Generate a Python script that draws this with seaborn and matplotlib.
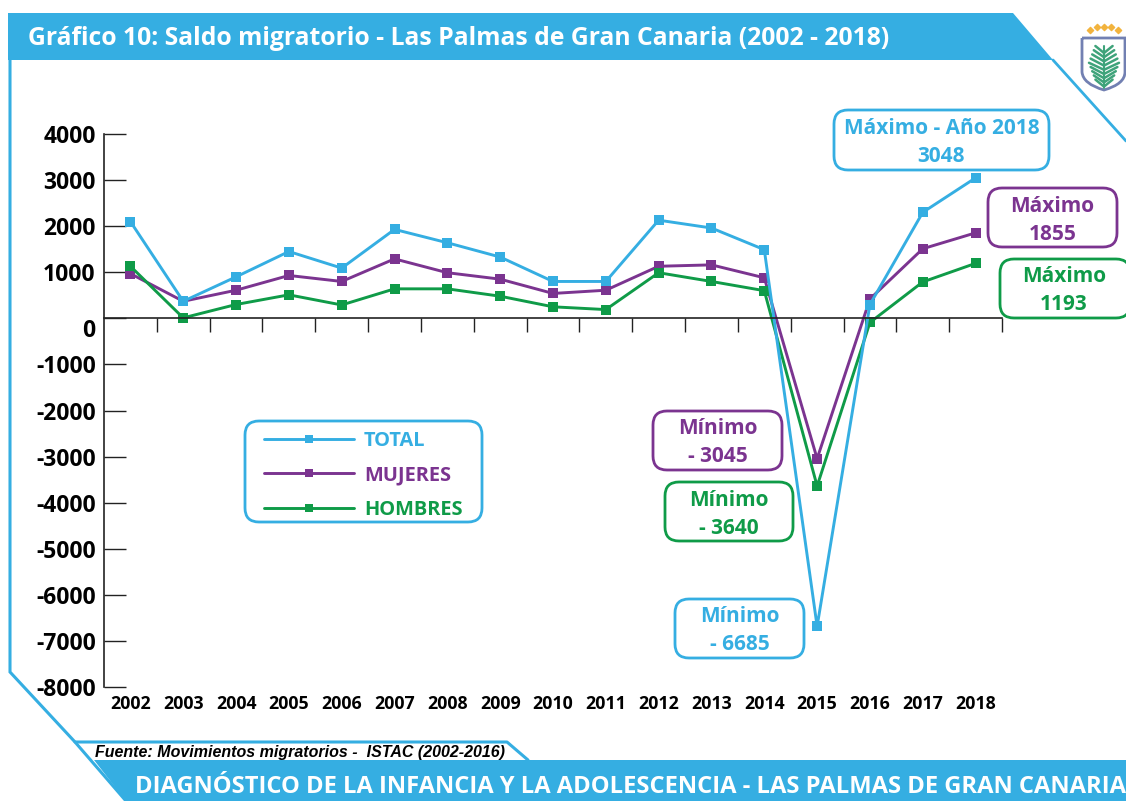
import numpy as np
import pandas as pd
import matplotlib
matplotlib.use('Agg')
import matplotlib.pyplot as plt
import matplotlib.transforms as mtrans
from matplotlib.patches import FancyBboxPatch, Polygon, PathPatch
from matplotlib.path import Path
import seaborn as sns

sns.set_style('white')
plt.rcParams['font.family'] = ['Open Sans', 'DejaVu Sans']

# datos
years = [str(y) for y in range(2002, 2019)]
total = [2100, 370, 900, 1450, 1090, 1930, 1640, 1330, 800, 800, 2130, 1960, 1490, -6685, 300, 2300, 3048]
mujeres = [970, 370, 610, 930, 800, 1290, 990, 850, 540, 610, 1130, 1160, 880, -3045, 420, 1510, 1855]
hombres = [1130, 10, 300, 510, 290, 640, 640, 480, 250, 190, 990, 800, 600, -3640, -90, 790, 1193]
y_ticks = [4000, 3000, 2000, 1000, 0, -1000, -2000, -3000, -4000, -5000, -6000, -7000, -8000]

BLUE = '#35AEE2'
PURPLE = '#7B3490'
GREEN = '#0F9B48'
W, H = 1126, 801

df = pd.DataFrame({'year': years, 'TOTAL': total, 'MUJERES': mujeres, 'HOMBRES': hombres})
long_df = df.melt(id_vars='year', var_name='serie', value_name='saldo')

fig = plt.figure(figsize=(W / 100, H / 100), dpi=100)

# capa de fondo en pixeles para el marco, las cajas y el escudo
bg = fig.add_axes([0, 0, 1, 1], zorder=0)
bg.set_xlim(0, W)
bg.set_ylim(H, 0)
bg.axis('off')

bg.add_patch(Polygon([(8, 13), (1013, 13), (1053, 60), (8, 60)], fc=BLUE, ec='none'))
bg.plot([10, 10, 75, 126], [60, 672, 742, 801], color=BLUE, lw=2.2, solid_joinstyle='miter')
bg.plot([1053, 1126], [60, 141], color=BLUE, lw=2)
bg.plot([75, 507, 528], [742, 742, 760], color=BLUE, lw=2.2)
bg.add_patch(Polygon([(94, 760), (W, 760), (W, H), (126, H)], fc=BLUE, ec='none'))

bg.text(28, 38.5, 'Gráfico 10: Saldo migratorio - Las Palmas de Gran Canaria (2002 - 2018)',
        color='white', fontsize=17.8, fontweight='bold', va='center', ha='left')
bg.text(135, 787, 'DIAGNÓSTICO DE LA INFANCIA Y LA ADOLESCENCIA - LAS PALMAS DE GRAN CANARIA',
        color='white', fontsize=17.1, fontweight='bold', va='center', ha='left')
bg.text(95, 752, 'Fuente: Movimientos migratorios -  ISTAC (2002-2016)', color='black',
        fontsize=11.5, fontweight='bold', style='italic', va='center', ha='left',
        family=['Liberation Sans', 'DejaVu Sans'])

# cajas de maximos y minimos
boxes = [
    (834, 110, 1049, 170, BLUE, 'Máximo - Año 2018', '3048'),
    (988, 188, 1117, 247, PURPLE, 'Máximo', '1855'),
    (1000, 259, 1130, 318, GREEN, 'Máximo', '1193'),
    (653, 411, 782, 470, PURPLE, 'Mínimo', '- 3045'),
    (665, 482, 793, 541, GREEN, 'Mínimo', '- 3640'),
    (675, 599, 804, 658, BLUE, 'Mínimo', '- 6685'),
]
for x0, y0, x1, y1, col, line1, line2 in boxes:
    bg.add_patch(FancyBboxPatch((x0 + 14, y0 + 14), x1 - x0 - 28, y1 - y0 - 28,
                                boxstyle='round,pad=14,rounding_size=14',
                                fc='white', ec=col, lw=2))
    cx = (x0 + min(x1, W + 2)) / 2
    bg.text(cx, y0 + 18, line1, color=col, fontsize=15, fontweight='bold', ha='center', va='center')
    bg.text(cx, y0 + 46, line2, color=col, fontsize=15, fontweight='bold', ha='center', va='center')

# caja de la leyenda
bg.add_patch(FancyBboxPatch((259, 435), 209, 73, boxstyle='round,pad=14,rounding_size=14',
                            fc='white', ec=BLUE, lw=2))

# escudo
shield = Path([(1082, 38), (1125, 38), (1125, 72), (1125, 84), (1104, 90), (1083, 84), (1082, 72), (1082, 38)],
              [Path.MOVETO, Path.LINETO, Path.LINETO, Path.CURVE3, Path.CURVE3, Path.CURVE3, Path.CURVE3, Path.LINETO])
bg.add_patch(PathPatch(shield, fc='white', ec='#7280B2', lw=2))
bg.plot([1104, 1104], [46, 88], color='#3FA37A', lw=1.5)
for i in range(9):
    yy = 50 + i * 4.2
    half = 15 - abs(i - 4) * 1.6
    bg.plot([1104 - half, 1104, 1104 + half], [yy - 4, yy + 3, yy - 4], color='#3FA37A', lw=1.8)
bg.scatter([1090, 1097, 1104, 1111, 1118], [30, 27, 27, 27, 30], marker='D', s=10, color='#F2B33D')

# grafico
left, right, top, bottom = 104, 1002, 134, 687
ax = fig.add_axes([left / W, 1 - bottom / H, (right - left) / W, (bottom - top) / H], zorder=1)
ax.patch.set_alpha(0)

sns.lineplot(data=long_df, x='year', y='saldo', hue='serie',
             hue_order=['MUJERES', 'HOMBRES', 'TOTAL'],
             palette={'TOTAL': BLUE, 'MUJERES': PURPLE, 'HOMBRES': GREEN},
             marker='s', markersize=6.5, markeredgewidth=0, linewidth=2.1,
             dashes=False, sort=False, ax=ax, clip_on=False, legend=True)

ax.set_xlim(-0.5, 16.5)
ax.set_ylim(-8000, 4000)
ax.set_xlabel('')
ax.set_ylabel('')
sns.despine(ax=ax, top=True, right=True)
ax.spines['bottom'].set_position(('data', 0))
ax.spines['bottom'].set_linewidth(1.2)
ax.spines['left'].set_linewidth(1.2)
ax.spines['bottom'].set_color('#222222')
ax.spines['left'].set_color('#222222')

ax.set_yticks(y_ticks)
ax.set_yticklabels([str(v) for v in y_ticks], fontsize=16.5, fontweight='bold', color='black')
ax.tick_params(axis='y', direction='in', length=16, width=1, pad=6, color='#222222', left=True)

ax.set_xticks(range(len(years)))
ax.set_xticklabels(years, fontsize=12.8, fontweight='bold', color='black')
ax.set_xticks(np.arange(0.5, 17, 1), minor=True)
ax.tick_params(axis='x', which='major', length=0, pad=271)
ax.tick_params(axis='x', which='minor', direction='out', length=10, width=1, color='#222222', bottom=True)

# el 0 va algo mas abajo que su marca
for lab, v in zip(ax.get_yticklabels(), y_ticks):
    if v == 0:
        lab.set_transform(lab.get_transform() + mtrans.ScaledTranslation(0, -7 / 72, fig.dpi_scale_trans))

# leyenda
handles, labels = ax.get_legend_handles_labels()
order = [labels.index(n) for n in ['TOTAL', 'MUJERES', 'HOMBRES']]
leg = ax.legend([handles[i] for i in order], [labels[i] for i in order],
                loc='upper left', bbox_to_anchor=(264 / W, 1 - 431 / H), bbox_transform=fig.transFigure,
                frameon=False, labelcolor='linecolor', numpoints=1, markerscale=0.8,
                handlelength=4.5, handletextpad=0.5, labelspacing=0.72,
                borderpad=0, borderaxespad=0,
                prop={'size': 14.4, 'weight': 'bold'})

fig.savefig('out.png', dpi=100)
plt.close(fig)
